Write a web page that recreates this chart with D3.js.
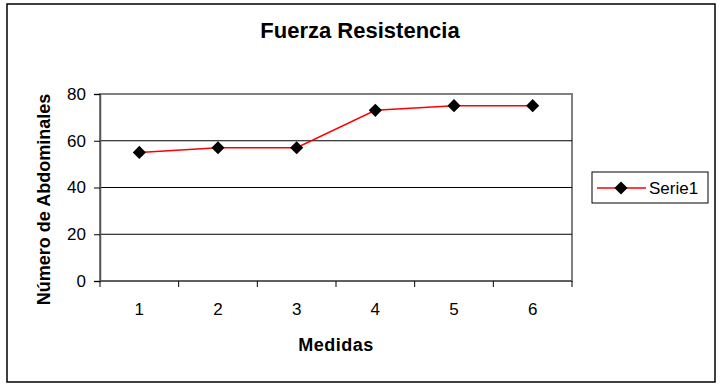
<!DOCTYPE html>
<html>
<head>
<meta charset="utf-8">
<script src="https://cdn.jsdelivr.net/npm/d3@7"></script>
<style>
  body { margin: 0; background: #fff; }
  svg text { font-family: "Liberation Sans", Arial, sans-serif; fill: #000; }
</style>
</head>
<body>
<svg id="chart" width="720" height="387"></svg>
<script>
var medidas = ["1", "2", "3", "4", "5", "6"];
var serie1 = [55, 57, 57, 73, 75, 75];
var yTicks = [0, 20, 40, 60, 80];

var svg = d3.select("#chart");

var plot = {left: 100, top: 94, right: 572, bottom: 281};

// outer chart border
svg.append("rect")
	.attr("x", 7).attr("y", 4)
	.attr("width", 708).attr("height", 378)
	.attr("fill", "#fff")
	.attr("stroke", "#000")
	.attr("stroke-width", 1.5);

var x = d3.scaleBand()
	.domain(medidas)
	.range([plot.left, plot.right]);

var y = d3.scaleLinear()
	.domain([0, 80])
	.range([plot.bottom, plot.top]);

// plot area border (gray)
svg.append("rect")
	.attr("x", plot.left).attr("y", plot.top)
	.attr("width", plot.right - plot.left)
	.attr("height", plot.bottom - plot.top)
	.attr("fill", "#fff")
	.attr("stroke", "#808080")
	.attr("stroke-width", 2);

// gridlines
svg.append("g")
	.selectAll("line")
	.data(yTicks.filter(d => d > 0 && d < 80))
	.enter()
		.append("line")
		.attr("x1", plot.left).attr("x2", plot.right)
		.attr("y1", d => y(d)).attr("y2", d => y(d))
		.attr("stroke", "#000")
		.attr("stroke-width", 1);

var yAxis = d3.axisLeft(y).tickValues(yTicks).tickSize(6).tickPadding(8);
var gy = svg.append("g")
	.attr("transform", "translate(" + plot.left + ",0)")
	.call(yAxis);
gy.select(".domain").attr("stroke", "#555").attr("stroke-width", 1.5);
gy.selectAll(".tick line").attr("stroke", "#000");
gy.selectAll(".tick text").style("font-size", "17px");

// x axis with ticks between categories
var xAxisG = svg.append("g")
	.attr("transform", "translate(0," + plot.bottom + ")");
xAxisG.append("line")
	.attr("x1", plot.left).attr("x2", plot.right)
	.attr("stroke", "#555").attr("stroke-width", 1.5);
var edges = medidas.map(d => x(d)).concat([x.range()[1]]);
xAxisG.selectAll(".tk")
	.data(edges)
	.enter()
		.append("line")
		.attr("x1", d => d).attr("x2", d => d)
		.attr("y1", 0).attr("y2", 6)
		.attr("stroke", "#000");
xAxisG.selectAll(".lbl")
	.data(medidas)
	.enter()
		.append("text")
		.attr("x", d => x(d) + x.bandwidth() / 2)
		.attr("y", 34)
		.attr("text-anchor", "middle")
		.style("font-size", "17px")
		.text(d => d);

// series line
var line = d3.line()
	.x((d, i) => x(medidas[i]) + x.bandwidth() / 2)
	.y(d => y(d));

svg.append("path")
	.datum(serie1)
	.attr("d", line)
	.attr("fill", "none")
	.attr("stroke", "#ff0000")
	.attr("stroke-width", 1.5);

var diamond = d3.symbol().type(d3.symbolDiamond2).size(110);
svg.selectAll(".pt")
	.data(serie1)
	.enter()
		.append("path")
		.attr("d", diamond)
		.attr("transform", (d, i) => "translate(" + (x(medidas[i]) + x.bandwidth() / 2) + "," + y(d) + ")")
		.attr("fill", "#000");

// title and axis titles
svg.append("text")
	.attr("x", 360).attr("y", 38)
	.attr("text-anchor", "middle")
	.style("font-size", "22px").style("font-weight", "bold")
	.text("Fuerza Resistencia");

svg.append("text")
	.attr("x", (plot.left + plot.right) / 2).attr("y", 351)
	.attr("text-anchor", "middle")
	.style("font-size", "18px").style("font-weight", "bold")
	.style("letter-spacing", "0.5px")
	.text("Medidas");

svg.append("text")
	.attr("transform", "translate(50," + ((plot.top + plot.bottom) / 2 + 12) + ") rotate(-90)")
	.attr("text-anchor", "middle")
	.style("font-size", "18px").style("font-weight", "bold")
	.text("Número de Abdominales");

// legend
var lg = svg.append("g").attr("transform", "translate(592,172)");
lg.append("rect")
	.attr("width", 116).attr("height", 31)
	.attr("fill", "#fff").attr("stroke", "#000").attr("stroke-width", 1);
lg.append("line")
	.attr("x1", 5).attr("x2", 54).attr("y1", 16).attr("y2", 16)
	.attr("stroke", "#ff0000").attr("stroke-width", 1.5);
lg.append("path")
	.attr("d", diamond)
	.attr("transform", "translate(29,16)")
	.attr("fill", "#000");
lg.append("text")
	.attr("x", 57).attr("y", 22)
	.style("font-size", "17px")
	.text("Serie1");
</script>
</body>
</html>
